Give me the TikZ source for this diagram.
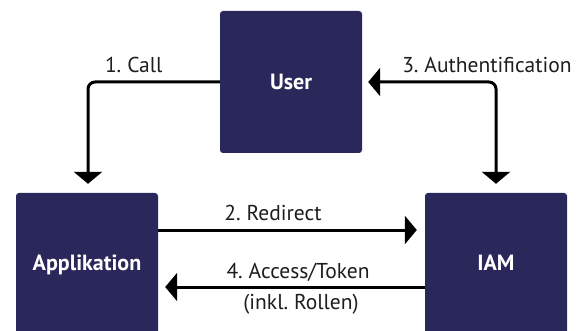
\documentclass[tikz,border=0pt]{standalone}
\usepackage{fontspec}
\setmainfont{PT Sans}
\usetikzlibrary{arrows.meta,calc}
\definecolor{navy}{HTML}{2A285A}
\definecolor{ink}{HTML}{1E1E1E}
\newcommand\mylblfont{\fontsize{21.5}{25}\selectfont\spaceskip=4pt plus 1pt minus 1pt\relax}
\tikzset{
  box/.style={fill=navy, rounded corners=3pt, minimum width=142pt, minimum height=142pt, inner sep=0pt},
  boxtext/.style={text=white, font=\fontsize{22}{26}\selectfont\bfseries, inner sep=0pt},
  lbl/.style={text=ink, font=\mylblfont, inner sep=0pt, anchor=base},
  arr/.style={line width=3pt, draw=black, -{Triangle[width=28pt,length=12pt]}},
  darr/.style={line width=3pt, draw=black, {Triangle[width=28pt,length=12pt]}-{Triangle[width=28pt,length=12pt]}, rounded corners=7pt},
}
\begin{document}
\begin{tikzpicture}[x=1pt,y=1pt]
\clip (0,0) rectangle (578,-331);
\fill[white] (0,0) rectangle (578,-331);
% boxes
\node[box] (user) at (291,-82) {};
\node[box, minimum height=150pt] (app) at (87,-268) {};
\node[box, minimum height=150pt] (iam) at (496,-268) {};
\node[boxtext, anchor=base] (usert) at (291,-89.5) {User};
\node[boxtext, anchor=base] (appt) at (87,-270) {Applikation};
\node[boxtext, anchor=base] (iamt) at (496,-270) {IAM};
% free ends
\coordinate (t1) at ($(app.north)+(1,9)$);
\coordinate (t3a) at ($(user.east)+(6,0)$);
\coordinate (t3b) at ($(iam.north)+(0,9)$);
\coordinate (t2) at ([yshift=38pt]iam.west);
\coordinate (s2) at ([yshift=38pt]app.east);
\coordinate (t4) at ([xshift=7pt,yshift=-19pt]app.east);
\coordinate (s4) at ([yshift=-19pt]iam.west);
% connectors
\draw[arr, rounded corners=7pt] (user.west) -| (t1);
\draw[darr] (t3a) -| (t3b);
\draw[arr] (s2) -- ([xshift=-8pt]t2);
\draw[arr] (s4) -- (t4);
% labels
\node[lbl] (l1) at (133.7,-72.3) {1. Call};
\node[lbl] (l3) at (487,-73) {3. Authentification};
\node[lbl] (l2) at (273,-220) {2. Redirect};
\node[lbl] (l4) at (298,-278.3) {4. Access/Token};
\node[lbl] (l4b) at (301,-309) {(inkl. Rollen)};
\end{tikzpicture}
\end{document}
